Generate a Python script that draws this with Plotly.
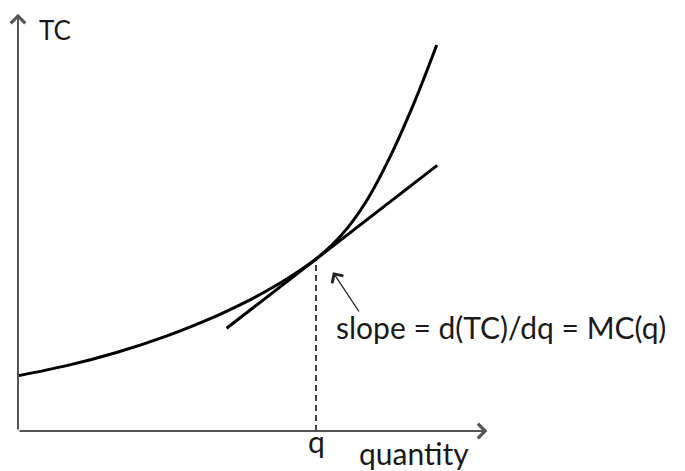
import plotly.graph_objects as go

# total cost curve (quantity, TC in arbitrary units)
quantity = [0, 1, 2, 3, 4, 4.5, 5, 5.5, 6, 6.5, 7, 7.5, 8, 8.43]
total_cost = [1.38, 1.64, 1.97, 2.38, 2.88, 3.17, 3.5, 3.87, 4.3, 4.88, 5.72, 6.88, 8.28, 9.65]

# tangent line at q
tangent_q = [4.2, 8.44]
tangent_tc = [2.57, 6.64]

q_point = 6
tc_at_q = 4.3

axis_x_end = 9.45
axis_y_end = 10.43

font = "Lato"
ink = "#1a1a1a"

fig = go.Figure()
fig.add_trace(go.Scatter(x=quantity, y=total_cost, mode="lines",
                         line=dict(color="black", width=3, shape="spline", smoothing=1),
                         hoverinfo="skip"))
fig.add_trace(go.Scatter(x=tangent_q, y=tangent_tc, mode="lines",
                         line=dict(color="black", width=3), hoverinfo="skip"))
fig.add_trace(go.Scatter(x=[q_point, q_point], y=[0, tc_at_q], mode="lines",
                         line=dict(color="black", width=1.5, dash="6px,4px"), hoverinfo="skip"))

# axes with arrow heads
fig.add_annotation(x=axis_x_end, y=0, ax=0, ay=0, xref="x", yref="y", axref="x", ayref="y",
                   showarrow=True, arrowhead=4, arrowsize=1.4, arrowwidth=2, arrowcolor="#555", text="")
fig.add_annotation(x=0, y=axis_y_end, ax=0, ay=0, xref="x", yref="y", axref="x", ayref="y",
                   showarrow=True, arrowhead=4, arrowsize=1.4, arrowwidth=2, arrowcolor="#555", text="")

# pointer to the tangent point
fig.add_annotation(x=6.34, y=3.97, ax=6.885, ay=2.95, xref="x", yref="y", axref="x", ayref="y",
                   showarrow=True, arrowhead=4, arrowsize=2, arrowwidth=1.3, arrowcolor="#222", text="")

fig.add_annotation(x=6.36, y=2.6, xref="x", yref="y", text="slope = d(TC)/dq = MC(q)", showarrow=False,
                   xanchor="left", yanchor="middle", font=dict(family=font, size=30, color=ink))
fig.add_annotation(x=0.38, y=10.03, xref="x", yref="y", text="TC", showarrow=False,
                   xanchor="left", yanchor="middle", font=dict(family=font, size=26, color=ink))
fig.add_annotation(x=q_point, y=-0.25, xref="x", yref="y", text="q", showarrow=False,
                   xanchor="center", yanchor="middle", font=dict(family=font, size=30, color=ink))
fig.add_annotation(x=7.97, y=-0.56, xref="x", yref="y", text="quantity", showarrow=False,
                   xanchor="center", yanchor="middle", font=dict(family=font, size=30, color=ink))

fig.update_layout(width=685, height=471, margin=dict(l=0, r=0, t=0, b=0),
                  plot_bgcolor="white", paper_bgcolor="white", showlegend=False)
# page body adds an 8px offset, ranges account for it
fig.update_xaxes(range=[-0.2013, 13.59], visible=False, fixedrange=True)
fig.update_yaxes(range=[-1.2, 10.575], visible=False, fixedrange=True)

fig.write_html("out.html")
